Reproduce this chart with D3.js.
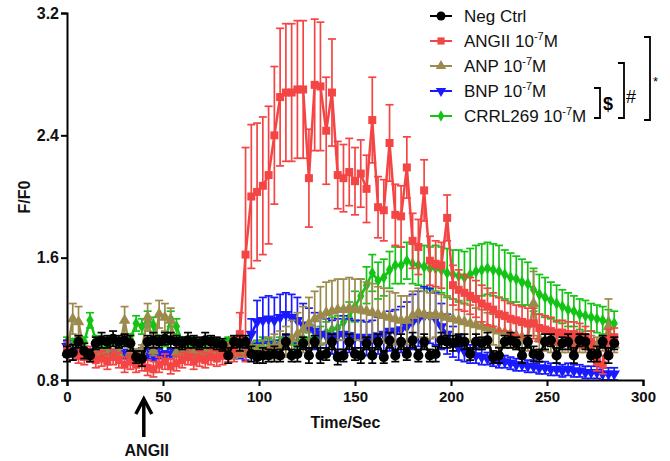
<!doctype html>
<html lang="en">
  <head>
    <meta charset="UTF-8" />
    <title>F/F0 time course</title>
    <script src="https://d3js.org/d3.v7.min.js"></script>
    <style>
      body {
        margin: 0;
        padding: 0;
        background: #fff;
        font-family: 'Liberation Sans', Arial, sans-serif;
      }
      .tick text {
        font-family: 'Liberation Sans', Arial, sans-serif;
        font-weight: bold;
        fill: #111;
      }
      .axis-title {
        font-weight: bold;
        font-size: 16px;
        fill: #111;
      }
      .legend-item {
        font-size: 17px;
        fill: #111;
      }
    </style>
  </head>
  <body>
    <div id="chart"></div>
    <script>
      // time points (sec)
      const time = d3.range(0, 288, 3)

      const negMean = [
        0.97, 0.98, 1.05, 0.99, 0.96, 1.04, 1.06, 1.05, 1.07, 1.05,
        1.06, 1.04, 0.95, 0.94, 1.05, 1.06, 1.05, 1.07, 1.06, 1.05,
        1.04, 1.06, 1.05, 1.04, 1.06, 1.05, 1.04, 1.03, 0.96, 1.05,
        1.04, 1.05, 0.97, 0.95, 0.96, 0.96, 0.97, 0.96, 1.05, 0.96,
        0.97, 1.04, 0.96, 1.05, 0.96, 0.97, 1.05, 0.95, 0.96, 1.05,
        0.97, 0.96, 1.04, 0.96, 1.05, 0.95, 1.06, 0.96, 1.05, 0.97,
        1.06, 0.96, 1.05, 0.96, 0.97, 1.06, 1.05, 1.04, 1.06, 1.05,
        0.97, 1.05, 1.04, 1.06, 0.95, 0.96, 1.05, 1.06, 1.04, 0.96,
        1.05, 0.97, 0.96, 1.05, 1.06, 0.96, 1.04, 1.05, 0.96, 1.06,
        1.05, 0.96, 0.97, 1.05, 0.96, 1.04
      ]
      const negErr = [
        0.05, 0.05, 0.04, 0.05, 0.04, 0.04, 0.05, 0.04, 0.05, 0.04,
        0.04, 0.05, 0.04, 0.05, 0.04, 0.05, 0.04, 0.04, 0.05, 0.04,
        0.04, 0.05, 0.04, 0.04, 0.05, 0.04, 0.04, 0.04, 0.05, 0.04,
        0.05, 0.04, 0.05, 0.04, 0.05, 0.04, 0.05, 0.04, 0.05, 0.04,
        0.05, 0.04, 0.05, 0.04, 0.05, 0.04, 0.05, 0.05, 0.04, 0.05,
        0.04, 0.05, 0.04, 0.05, 0.05, 0.04, 0.05, 0.04, 0.05, 0.04,
        0.05, 0.04, 0.05, 0.04, 0.05, 0.05, 0.04, 0.05, 0.04, 0.05,
        0.04, 0.05, 0.04, 0.05, 0.04, 0.05, 0.04, 0.05, 0.04, 0.05,
        0.04, 0.05, 0.04, 0.05, 0.04, 0.05, 0.04, 0.05, 0.05, 0.04,
        0.05, 0.04, 0.05, 0.04, 0.05, 0.04
      ]

      const angMean = [
        1.0, 0.98, 0.96, 0.95, 0.97, 0.93, 0.94, 0.92, 0.95, 0.93,
        0.9, 0.92, 0.9, 0.91, 0.88, 0.87, 0.9, 0.92, 0.89, 0.91,
        0.93, 0.95, 0.92, 0.94, 0.93, 0.95, 0.94, 0.96, 0.98, 1.0,
        1.1, 1.62, 2.0, 2.03, 2.07, 2.14, 2.4, 2.65, 2.68, 2.68,
        2.7, 2.7, 2.12, 2.73, 2.72, 2.43, 2.68, 2.14, 2.12, 2.16,
        2.1, 2.15, 2.05, 2.5, 1.93, 1.91, 2.35, 1.88, 1.87, 2.19,
        1.71, 1.67, 2.04, 1.58, 1.56, 1.55, 1.86, 1.42, 1.39, 1.37,
        1.35, 1.33, 1.3, 1.28, 1.26, 1.23, 1.22, 1.2, 1.19, 1.18,
        1.17, 1.17, 1.14, 1.13, 1.12, 1.11, 1.11, 1.1, 1.1, 1.09,
        1.08, 1.05, 0.92, 0.9, 1.07, 1.08
      ]
      const angErr = [
        0.05, 0.05, 0.05, 0.05, 0.05, 0.05, 0.05, 0.05, 0.05, 0.05,
        0.05, 0.05, 0.05, 0.05, 0.05, 0.05, 0.05, 0.05, 0.05, 0.05,
        0.05, 0.05, 0.05, 0.05, 0.05, 0.05, 0.05, 0.06, 0.06, 0.08,
        0.14, 0.7, 0.47, 0.45, 0.45, 0.45, 0.45, 0.45, 0.45, 0.45,
        0.45, 0.45, 0.32, 0.43, 0.42, 0.35, 0.35, 0.22, 0.22, 0.22,
        0.22, 0.22, 0.22, 0.28, 0.2, 0.2, 0.25, 0.2, 0.2, 0.2,
        0.18, 0.18, 0.2, 0.16, 0.15, 0.15, 0.15, 0.13, 0.13, 0.12,
        0.12, 0.12, 0.12, 0.12, 0.11, 0.11, 0.1, 0.1, 0.1, 0.1,
        0.1, 0.1, 0.09, 0.09, 0.09, 0.08, 0.08, 0.08, 0.08, 0.08,
        0.07, 0.07, 0.06, 0.06, 0.06, 0.06
      ]

      const anpMean = [
        0.98, 1.2, 1.18, 0.97, 0.95, 0.96, 0.98, 0.97, 0.96, 0.97,
        1.19, 0.98, 0.97, 1.0, 1.21, 0.99, 1.23, 1.21, 1.19, 0.98,
        0.97, 0.96, 0.98, 0.97, 0.98, 0.99, 0.98, 0.97, 0.98, 0.97,
        0.98, 0.99, 1.0, 0.98, 1.0, 1.01, 1.02, 1.03, 1.05, 1.07,
        1.1, 1.13, 1.17, 1.2, 1.22, 1.24, 1.25, 1.26, 1.26, 1.27,
        1.26, 1.26, 1.25, 1.24, 1.23, 1.22, 1.21, 1.2, 1.19, 1.19,
        1.22, 1.24, 1.23, 1.22, 1.23, 1.22, 1.21, 1.2, 1.19, 1.18,
        1.17, 1.16, 1.15, 1.14, 1.13, 1.12, 1.11, 1.1, 1.09, 1.08,
        1.07, 1.3, 1.07, 1.06, 1.05, 1.05, 1.04, 1.04, 1.05, 1.04,
        1.03, 1.04, 1.03, 1.04, 1.15, 1.03
      ]
      const anpErr = [
        0.03, 0.1, 0.1, 0.03, 0.03, 0.03, 0.03, 0.03, 0.03, 0.03,
        0.09, 0.03, 0.03, 0.03, 0.09, 0.03, 0.09, 0.09, 0.08, 0.03,
        0.03, 0.03, 0.03, 0.03, 0.03, 0.03, 0.03, 0.03, 0.03, 0.03,
        0.03, 0.04, 0.05, 0.05, 0.06, 0.07, 0.08, 0.09, 0.1, 0.12,
        0.14, 0.15, 0.17, 0.18, 0.19, 0.2, 0.2, 0.2, 0.2, 0.2,
        0.2, 0.2, 0.19, 0.19, 0.18, 0.18, 0.17, 0.17, 0.16, 0.16,
        0.16, 0.16, 0.15, 0.15, 0.15, 0.14, 0.14, 0.13, 0.13, 0.12,
        0.12, 0.11, 0.11, 0.1, 0.1, 0.1, 0.09, 0.09, 0.09, 0.08,
        0.08, 0.21, 0.08, 0.07, 0.07, 0.07, 0.06, 0.06, 0.06, 0.06,
        0.05, 0.05, 0.05, 0.05, 0.18, 0.05
      ]

      const bnpMean = [
        1.02, 0.98, 0.97, 0.96, 0.97, 0.98, 0.97, 0.96, 0.97, 0.98,
        0.97, 0.96, 0.97, 0.98, 0.97, 0.96, 0.97, 0.96, 0.97, 0.98,
        0.97, 0.96, 0.97, 0.97, 0.98, 0.97, 0.96, 0.97, 0.98, 0.97,
        0.98, 0.99, 1.1, 1.18, 1.19, 1.2, 1.19, 1.21, 1.23, 1.21,
        1.19, 1.16, 1.14, 1.12, 1.1, 1.09, 1.08, 1.09, 1.1, 1.09,
        1.08, 1.08, 1.07, 1.08, 1.09, 1.1, 1.12, 1.12, 1.13, 1.15,
        1.18, 1.2, 1.22, 1.22, 1.2, 1.15, 1.1, 1.05, 1.01, 0.99,
        0.97, 0.96, 0.95, 0.94, 0.93, 0.92, 0.92, 0.91, 0.9, 0.9,
        0.89, 0.89, 0.88, 0.88, 0.87, 0.87, 0.86, 0.87, 0.86, 0.86,
        0.85, 0.85, 0.85, 0.84, 0.84, 0.84
      ]
      const bnpErr = [
        0.04, 0.03, 0.03, 0.03, 0.03, 0.03, 0.03, 0.03, 0.03, 0.03,
        0.03, 0.03, 0.03, 0.03, 0.03, 0.03, 0.03, 0.03, 0.03, 0.03,
        0.03, 0.03, 0.03, 0.03, 0.03, 0.03, 0.03, 0.03, 0.03, 0.03,
        0.04, 0.06, 0.1, 0.14, 0.15, 0.15, 0.15, 0.15, 0.14, 0.15,
        0.15, 0.14, 0.13, 0.12, 0.12, 0.11, 0.11, 0.11, 0.12, 0.11,
        0.11, 0.11, 0.11, 0.11, 0.12, 0.12, 0.13, 0.14, 0.15, 0.16,
        0.18, 0.18, 0.19, 0.18, 0.17, 0.15, 0.13, 0.1, 0.08, 0.07,
        0.06, 0.05, 0.05, 0.04, 0.04, 0.04, 0.04, 0.04, 0.04, 0.04,
        0.04, 0.04, 0.04, 0.04, 0.04, 0.04, 0.04, 0.04, 0.04, 0.04,
        0.04, 0.04, 0.04, 0.04, 0.04, 0.04
      ]

      const crrMean = [
        1.05, 1.04, 1.06, 1.05, 1.19, 1.06, 1.04, 1.05, 1.06, 1.04,
        1.05, 1.07, 1.17, 1.15, 1.2, 1.16, 1.06, 1.05, 1.2, 1.15,
        1.05, 1.04, 1.05, 1.03, 1.04, 1.05, 1.04, 1.03, 1.05, 1.04,
        1.03, 1.04, 1.02, 1.03, 1.05, 1.04, 1.03, 1.05, 1.04, 1.06,
        1.05, 1.07, 1.06, 1.08, 1.09, 1.11, 1.13, 1.14, 1.18, 1.21,
        1.28, 1.35, 1.42, 1.5, 1.45, 1.47, 1.52, 1.55, 1.55, 1.58,
        1.56, 1.55, 1.54, 1.53, 1.53, 1.52, 1.5, 1.49, 1.48, 1.47,
        1.49, 1.51, 1.52, 1.53, 1.52, 1.51, 1.49, 1.47, 1.46, 1.44,
        1.43, 1.39, 1.36, 1.34, 1.32, 1.3, 1.28, 1.26, 1.25, 1.23,
        1.22, 1.21, 1.2, 1.19, 1.18, 1.17
      ]
      const crrErr = [
        0.03, 0.03, 0.03, 0.03, 0.05, 0.03, 0.03, 0.03, 0.03, 0.03,
        0.03, 0.03, 0.05, 0.05, 0.05, 0.05, 0.03, 0.03, 0.05, 0.05,
        0.03, 0.03, 0.03, 0.03, 0.03, 0.03, 0.03, 0.03, 0.03, 0.03,
        0.03, 0.03, 0.03, 0.03, 0.03, 0.03, 0.03, 0.03, 0.03, 0.03,
        0.04, 0.04, 0.05, 0.05, 0.06, 0.07, 0.08, 0.08, 0.09, 0.1,
        0.1, 0.11, 0.12, 0.12, 0.12, 0.12, 0.12, 0.12, 0.12, 0.12,
        0.13, 0.13, 0.14, 0.14, 0.15, 0.15, 0.16, 0.16, 0.17, 0.17,
        0.17, 0.17, 0.17, 0.17, 0.17, 0.17, 0.16, 0.16, 0.15, 0.15,
        0.14, 0.14, 0.13, 0.13, 0.12, 0.12, 0.11, 0.11, 0.1, 0.1,
        0.1, 0.09, 0.09, 0.09, 0.08, 0.08
      ]

      const xTicks = [0, 50, 100, 150, 200, 250, 300]
      const yTicks = [0.8, 1.6, 2.4, 3.2]

      // series, in legend order
      const series = [
        { name: 'Neg Ctrl', sup: null, mean: negMean, err: negErr, color: '#000000', symbol: d3.symbolCircle, size: 80 },
        { name: 'ANGII 10', sup: '-7', mean: angMean, err: angErr, color: '#f44545', symbol: d3.symbolSquare, size: 64 },
        { name: 'ANP 10', sup: '-7', mean: anpMean, err: anpErr, color: '#9c8a4c', symbol: d3.symbolTriangle, size: 58 },
        { name: 'BNP 10', sup: '-7', mean: bnpMean, err: bnpErr, color: '#1a1aff', symbol: d3.symbolTriangle, size: 58, flip: true },
        { name: 'CRRL269 10', sup: '-7', mean: crrMean, err: crrErr, color: '#14c414', symbol: d3.symbolDiamond, size: 46 },
      ]

      const W = 670
      const H = 461
      const svg = d3.select('#chart').append('svg').attr('width', W).attr('height', H)

      const x = d3.scaleLinear().domain([0, 300]).range([67, 643])
      const y = d3.scaleLinear().domain([0.8, 3.2]).range([380, 13])

      // draw the series bottom-up (last legend entry first)
      const plot = svg.append('g')
      const line = d3.line().x((d) => x(d.t)).y((d) => y(d.m))

      series
        .slice()
        .reverse()
        .forEach((s) => {
          const pts = time.map((t, i) => ({ t, m: s.mean[i], e: s.err[i] }))
          const g = plot.append('g')

          // error bars
          const eb = g.selectAll('g.eb').data(pts).join('g').attr('class', 'eb')
          eb.append('line')
            .attr('x1', (d) => x(d.t))
            .attr('x2', (d) => x(d.t))
            .attr('y1', (d) => y(d.m - d.e))
            .attr('y2', (d) => y(d.m + d.e))
          eb.append('line')
            .attr('x1', (d) => x(d.t) - 4)
            .attr('x2', (d) => x(d.t) + 4)
            .attr('y1', (d) => y(d.m + d.e))
            .attr('y2', (d) => y(d.m + d.e))
          eb.append('line')
            .attr('x1', (d) => x(d.t) - 4)
            .attr('x2', (d) => x(d.t) + 4)
            .attr('y1', (d) => y(d.m - d.e))
            .attr('y2', (d) => y(d.m - d.e))
          eb.selectAll('line').attr('stroke', s.color).attr('stroke-width', 1.7)

          g.append('path')
            .datum(pts)
            .attr('d', line)
            .attr('fill', 'none')
            .attr('stroke', s.color)
            .attr('stroke-width', 2.5)

          g.selectAll('path.pt')
            .data(pts)
            .join('path')
            .attr('class', 'pt')
            .attr('d', d3.symbol(s.symbol, s.size))
            .attr('transform', (d) => `translate(${x(d.t)},${y(d.m)})${s.flip ? ' rotate(180)' : ''}`)
            .attr('fill', s.color)
        })

      // axes
      const xAxis = svg
        .append('g')
        .attr('transform', 'translate(0,380)')
        .call(d3.axisBottom(x).tickValues(xTicks).tickSize(6).tickPadding(5))
      xAxis.selectAll('.tick text').attr('font-size', 15)

      const yAxis = svg
        .append('g')
        .attr('transform', 'translate(67,0)')
        .call(d3.axisLeft(y).tickValues(yTicks).tickFormat(d3.format('.1f')).tickSize(6).tickPadding(2))
      yAxis.selectAll('.tick text').attr('font-size', 16)

      svg.selectAll('.domain, .tick line').attr('stroke', '#000').attr('stroke-width', 2)

      svg
        .append('text')
        .attr('class', 'axis-title')
        .attr('transform', 'translate(30,197) rotate(-90)')
        .attr('text-anchor', 'middle')
        .text('F/F0')

      svg
        .append('text')
        .attr('class', 'axis-title')
        .attr('x', x(145))
        .attr('y', 428)
        .attr('text-anchor', 'middle')
        .text('Time/Sec')

      // ANGII addition arrow
      const ax = x(40)
      svg
        .append('line')
        .attr('x1', ax)
        .attr('x2', ax)
        .attr('y1', 437)
        .attr('y2', 402)
        .attr('stroke', '#000')
        .attr('stroke-width', 3.5)
      svg
        .append('path')
        .attr('d', `M${ax - 8},${414} L${ax},${399} L${ax + 8},${414}`)
        .attr('fill', 'none')
        .attr('stroke', '#000')
        .attr('stroke-width', 3.5)
      svg
        .append('text')
        .attr('class', 'axis-title')
        .attr('x', ax + 3)
        .attr('y', 456)
        .attr('text-anchor', 'middle')
        .attr('font-size', 18)
        .text('ANGII')

      // legend
      const legend = svg.append('g')
      series.forEach((s, i) => {
        const ly = 16 + i * 25
        legend
          .append('line')
          .attr('x1', 430)
          .attr('x2', 452)
          .attr('y1', ly)
          .attr('y2', ly)
          .attr('stroke', s.color)
          .attr('stroke-width', 2)
        legend
          .append('path')
          .attr('d', d3.symbol(s.symbol, s.size * 0.8)())
          .attr('transform', `translate(441,${ly})${s.flip ? ' rotate(180)' : ''}`)
          .attr('fill', s.color)
        const txt = legend
          .append('text')
          .attr('class', 'legend-item')
          .attr('x', 464)
          .attr('y', ly + 6)
          .text(s.name)
        if (s.sup) {
          txt.append('tspan').attr('font-size', 11).attr('dy', -7).text(s.sup)
          txt.append('tspan').attr('dy', 7).text('M')
        }
      })

      // significance brackets
      const bracket = (bx, y1, y2) =>
        svg
          .append('path')
          .attr('d', `M${bx - 6},${y1} L${bx},${y1} L${bx},${y2} L${bx - 6},${y2}`)
          .attr('fill', 'none')
          .attr('stroke', '#000')
          .attr('stroke-width', 1.8)
      bracket(600, 88, 118)
      bracket(624, 63, 118)
      bracket(650, 37, 120)

      svg.append('text').attr('x', 603).attr('y', 110).attr('font-weight', 'bold').attr('font-size', 18).text('$')
      svg.append('text').attr('x', 626).attr('y', 103).attr('font-size', 18).text('#')
      svg.append('text').attr('x', 653).attr('y', 86).attr('font-size', 13).text('*')
    </script>
  </body>
</html>
